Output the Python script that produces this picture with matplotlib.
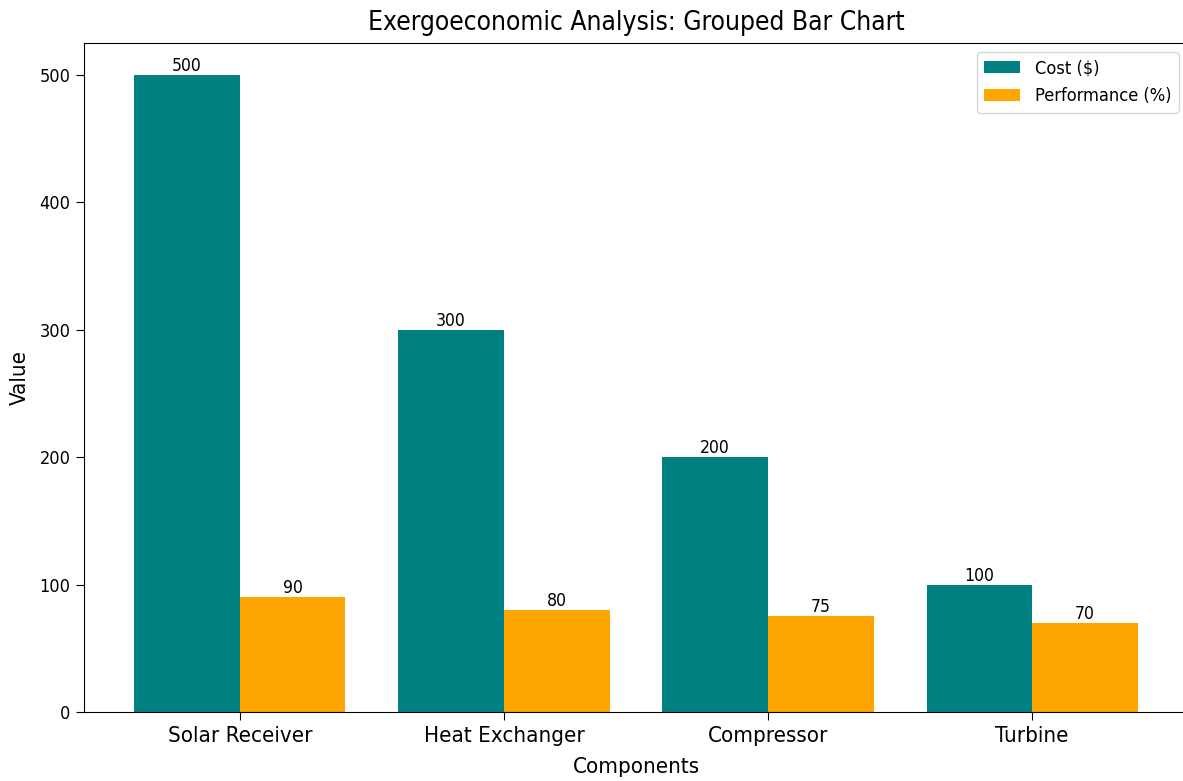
import matplotlib
matplotlib.use("Agg")
import matplotlib.pyplot as plt
import numpy as np

plt.rcParams["font.family"] = ["DejaVu Sans"]
plt.rcParams["font.stretch"] = "condensed"

components = ["Solar Receiver", "Heat Exchanger", "Compressor", "Turbine"]
cost = [500, 300, 200, 100]
performance = [90, 80, 75, 70]

fig = plt.figure(figsize=(11.83, 7.81), dpi=100)
ax = fig.add_axes([84 / 1183, 69 / 781, 1104 / 1183, 669 / 781])

x = np.arange(len(components))
width = 0.4
bars_cost = ax.bar(x - width / 2, cost, width, color="teal", label="Cost ($)")
bars_perf = ax.bar(x + width / 2, performance, width, color="orange", label="Performance (%)")

for bars in (bars_cost, bars_perf):
    ax.bar_label(bars, fontsize=12.6, padding=0)

ax.set_xticks(x)
ax.set_xticklabels(components, fontsize=16)
ax.tick_params(axis="both", length=5.8, pad=4)
ax.tick_params(axis="y", labelsize=13)
ax.set_xlabel("Components", fontsize=16, labelpad=8)
ax.set_ylabel("Value", fontsize=16, labelpad=7)
ax.set_title("Exergoeconomic Analysis: Grouped Bar Chart", fontsize=18.9, pad=9.5)
ax.legend(fontsize=13.1, labelspacing=0.55)

fig.savefig("out.png", dpi=100)
